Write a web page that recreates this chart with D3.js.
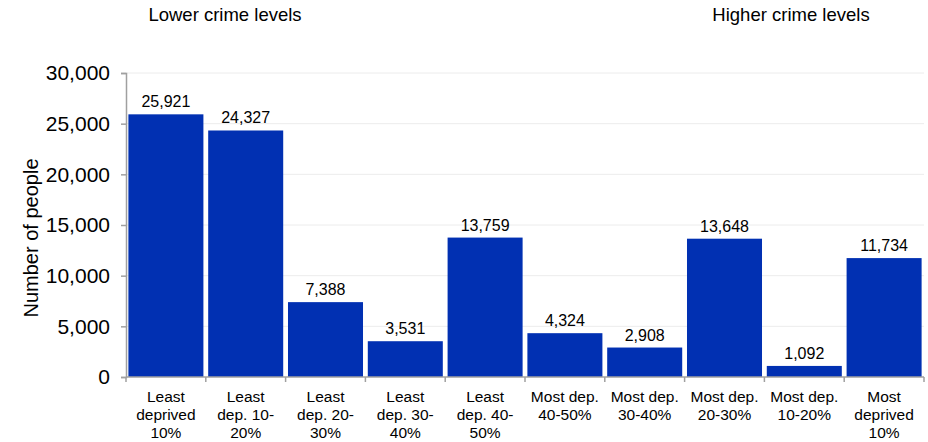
<!DOCTYPE html>
<html>
<head>
<meta charset="utf-8">
<script src="https://cdn.jsdelivr.net/npm/d3@7"></script>
<style>
  body { margin: 0; background: #fff; }
  text { font-family: "Liberation Sans", Arial, sans-serif; fill: #000; }
</style>
</head>
<body>
<div id="chart"></div>
<script>
var categories = [
  ["Least", "deprived", "10%"],
  ["Least", "dep. 10-", "20%"],
  ["Least", "dep. 20-", "30%"],
  ["Least", "dep. 30-", "40%"],
  ["Least", "dep. 40-", "50%"],
  ["Most dep.", "40-50%"],
  ["Most dep.", "30-40%"],
  ["Most dep.", "20-30%"],
  ["Most dep.", "10-20%"],
  ["Most", "deprived", "10%"]
];
var values = [25921, 24327, 7388, 3531, 13759, 4324, 2908, 13648, 1092, 11734];
var yTicks = [0, 5000, 10000, 15000, 20000, 25000, 30000];

var W = 928, H = 442;
var mLeft = 126, mRight = 924, mTop = 73, mBottom = 377;

var svg = d3.select("#chart").append("svg")
    .attr("width", W)
    .attr("height", H);

var x = d3.scaleBand()
    .domain(d3.range(values.length))
    .range([mLeft, mRight])
    .paddingInner(0.06)
    .paddingOuter(0.03);

var y = d3.scaleLinear()
    .domain([0, 30000])
    .range([mBottom, mTop]);

// gridlines
svg.append("g")
    .selectAll("line")
    .data(yTicks.slice(1))
    .enter().append("line")
    .attr("x1", mLeft)
    .attr("x2", mRight)
    .attr("y1", function(d) { return y(d) })
    .attr("y2", function(d) { return y(d) })
    .attr("stroke", "#ececec")
    .attr("stroke-width", 1);

// bars
svg.append("g")
    .selectAll("rect")
    .data(values)
    .enter().append("rect")
    .attr("x", function(d, i) { return x(i) })
    .attr("y", function(d) { return y(d) })
    .attr("width", x.bandwidth())
    .attr("height", function(d) { return y(0) - y(d) })
    .attr("fill", "#0130b2");

// value labels
svg.append("g")
    .selectAll("text")
    .data(values)
    .enter().append("text")
    .attr("x", function(d, i) { return x(i) + x.bandwidth() / 2 })
    .attr("y", function(d) { return y(d) - 7 })
    .attr("text-anchor", "middle")
    .style("font-size", "16px")
    .text(function(d) { return d3.format(",")(d) });

// y axis
var yAxis = svg.append("g")
    .attr("transform", "translate(" + mLeft + ",0)")
    .call(d3.axisLeft(y).tickValues(yTicks).tickSize(5).tickPadding(11).tickFormat(d3.format(",")));
yAxis.select(".domain").attr("stroke", "#a0a0a0").attr("stroke-width", 1.5);
yAxis.selectAll(".tick line").attr("stroke", "#a0a0a0").attr("stroke-width", 1.5);
yAxis.selectAll(".tick text").style("font-size", "21px").attr("fill", "#000");

// x axis line and ticks at band boundaries
var bounds = d3.range(values.length + 1).map(function(i) {
    return i < values.length ? x(i) - x.step() * x.paddingInner() / 2 : mRight;
});
bounds[0] = mLeft;
svg.append("line")
    .attr("x1", mLeft).attr("x2", mRight)
    .attr("y1", mBottom).attr("y2", mBottom)
    .attr("stroke", "#a0a0a0").attr("stroke-width", 1.5);
svg.append("g")
    .selectAll("line")
    .data(bounds)
    .enter().append("line")
    .attr("x1", function(d) { return d })
    .attr("x2", function(d) { return d })
    .attr("y1", mBottom)
    .attr("y2", mBottom + 5)
    .attr("stroke", "#a0a0a0")
    .attr("stroke-width", 1.5);

// category labels
var cat = svg.append("g")
    .selectAll("text")
    .data(categories)
    .enter().append("text")
    .attr("x", function(d, i) { return x(i) + x.bandwidth() / 2 })
    .attr("y", 402)
    .attr("text-anchor", "middle")
    .style("font-size", "15.5px");
cat.selectAll("tspan")
    .data(function(d) { return d })
    .enter().append("tspan")
    .attr("x", function() { return d3.select(this.parentNode).attr("x") })
    .attr("dy", function(d, i) { return i === 0 ? 0 : 18 })
    .text(function(d) { return d });

// y title
svg.append("text")
    .attr("transform", "translate(38,238) rotate(-90)")
    .attr("text-anchor", "middle")
    .style("font-size", "20px")
    .text("Number of people");

// header notes
svg.append("text")
    .attr("x", 225).attr("y", 21)
    .attr("text-anchor", "middle")
    .style("font-size", "18.5px")
    .text("Lower crime levels");
svg.append("text")
    .attr("x", 791).attr("y", 21)
    .attr("text-anchor", "middle")
    .style("font-size", "18.5px")
    .text("Higher crime levels");
</script>
</body>
</html>
